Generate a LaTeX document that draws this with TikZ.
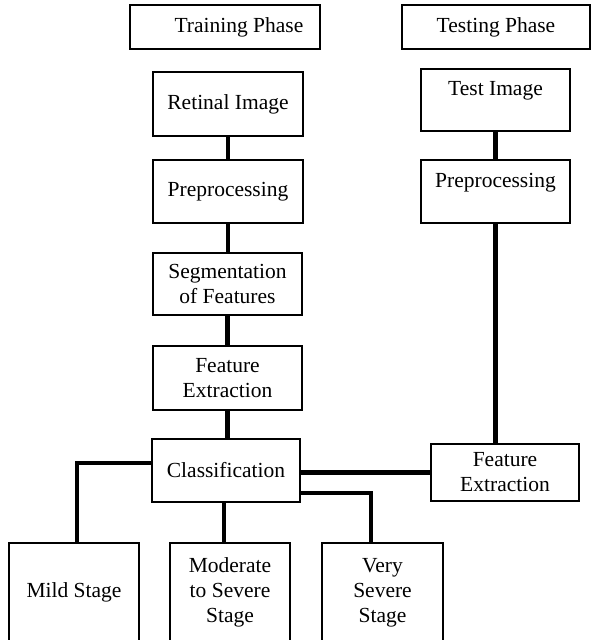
\documentclass[tikz,border=0pt]{standalone}
\usepackage{fontspec}
\setmainfont{Liberation Serif}
\begin{document}
\begin{tikzpicture}[x=1pt,y=-1pt,
  box/.style={draw, line width=2pt, inner sep=0pt, align=center,
    font=\fontsize{21.5}{25}\selectfont},
  link/.style={line width=4.5pt}]
\useasboundingbox (0,0) rectangle (592,640);
% phase headers
\node[box, minimum width=190pt, minimum height=44pt] (train) at (225,27) {\hspace*{28pt}Training Phase};
\node[box, minimum width=188pt, minimum height=44pt] (test) at (496,27) {Testing Phase};
% training column
\node[box, minimum width=150pt, minimum height=64pt] (retinal) at (228,104) {Retinal Image};
\node[box, minimum width=150pt, minimum height=63pt] (prepL) at (228,191.5) {Preprocessing};
\node[box, minimum width=149pt, minimum height=62pt] (seg) at (227.5,284) {Segmentation\\of Features};
\node[box, minimum width=149pt, minimum height=64pt] (feL) at (227.5,378) {Feature\\Extraction};
\node[box, minimum width=148pt, minimum height=63pt] (class) at (226,470.5) {Classification};
% testing column
\node[box, minimum width=149pt, minimum height=62pt, text height=14.6pt, text depth=23pt] (testimg) at (495.5,100) {Test Image};
\node[box, minimum width=149pt, minimum height=63pt, text height=14.6pt, text depth=23pt] (prepR) at (495.5,191.5) {Preprocessing};
\node[box, minimum width=148pt, minimum height=57pt] (feR) at (505,472.5) {Feature\\Extraction};
% stages
\node[box, minimum width=130pt, minimum height=99pt] (mild) at (74,592.5) {Mild Stage};
\node[box, minimum width=120pt, minimum height=99pt] (mod) at (230,592.5) {Moderate\\to Severe\\Stage};
\node[box, minimum width=121pt, minimum height=99pt] (vs) at (382.5,592.5) {Very\\Severe\\Stage};
% connectors
\draw[link] (retinal.south) -- (prepL.north);
\draw[link] (prepL.south) -- (prepL.south |- seg.north);
\draw[link] (seg.south) -- (seg.south |- feL.north);
\draw[link] (feL.south) -- (feL.south |- class.north);
\draw[link] (testimg.south) -- (prepR.north);
\draw[link] (prepR.south) -- (prepR.south |- feR.north);
\draw[link] (feR.west) -- (feR.west -| class.east);
\coordinate (m1) at (77,463);
\draw[link] (class.west |- m1) -- (m1) -- (m1 |- mild.north);
\coordinate (m2) at (224,520);
\draw[link] (class.south -| m2) -- (m2 |- mod.north);
\coordinate (m3) at (371,493);
\draw[link] (class.east |- m3) -- (m3) -- (m3 |- vs.north);
\end{tikzpicture}
\end{document}
